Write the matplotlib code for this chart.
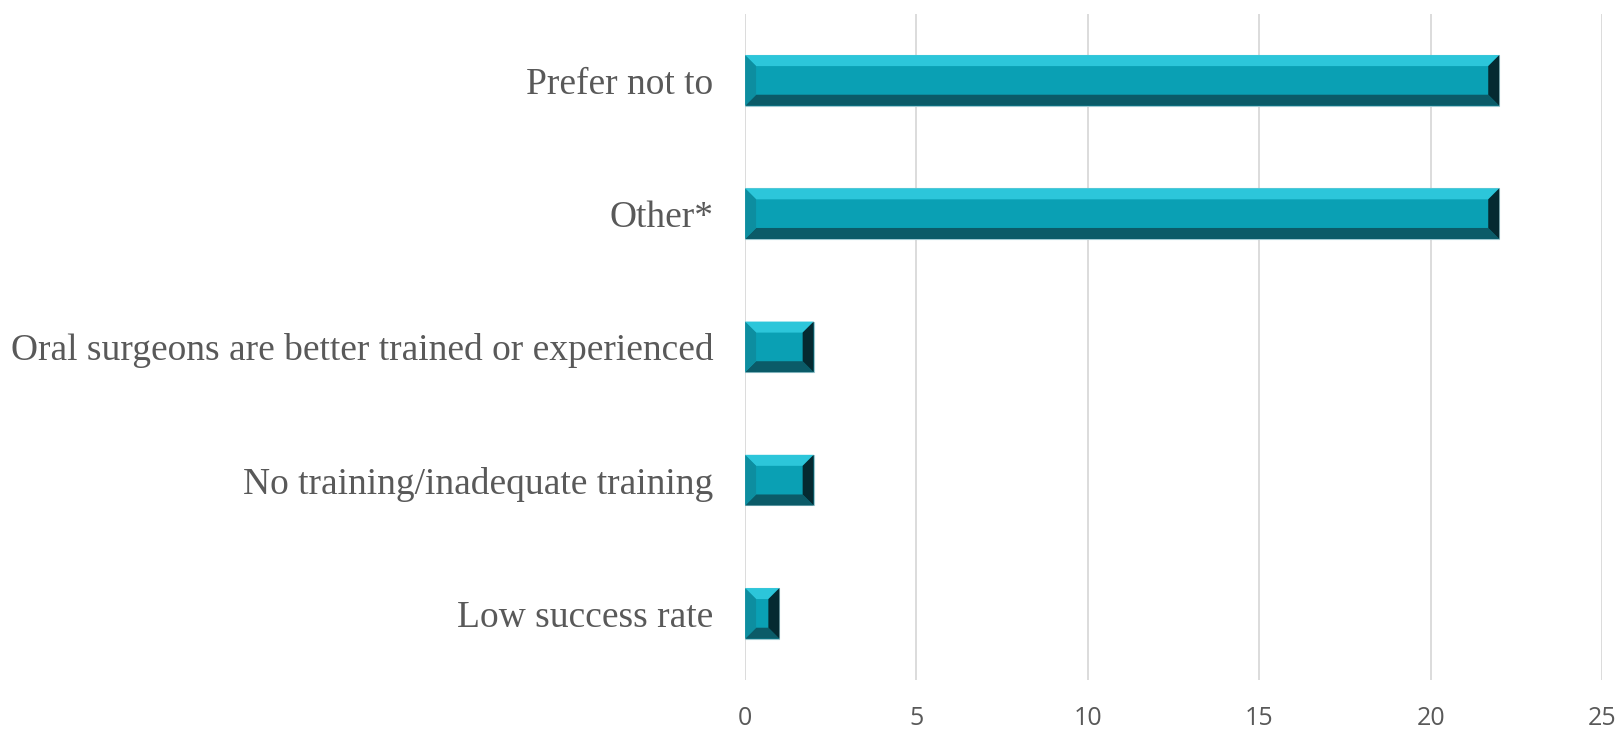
import numpy as np
import matplotlib
matplotlib.use('Agg')
import matplotlib.pyplot as plt
from matplotlib.patches import Polygon

# datos (de abajo hacia arriba)
categorias = ['Low success rate', 'No training/inadequate training',
              'Oral surgeons are better trained or experienced',
              'Other*', 'Prefer not to']
valores = [1, 2, 2, 22, 22]
ticks_x = [0, 5, 10, 15, 20, 25]

color_cara = '#0aa0b4'
color_sup = '#2cc6da'
color_inf = '#0b5b68'
color_der = '#052a31'
color_izq = '#0d8ea0'

fig = plt.figure(figsize=(16.24, 7.37), dpi=100)
ax = fig.add_axes([0.4588, 0.0773, 0.5277, 0.904])

y = np.arange(len(categorias))
alto = 0.38
bars = ax.barh(y, valores, height=alto, color=color_cara,
               edgecolor='#9fc9d1', linewidth=0.8, zorder=2)

ax.set_xlim(0, 25)
ax.set_ylim(-0.5, len(categorias) - 0.5)
ax.set_xticks(ticks_x)
ax.set_yticks(y)
ax.set_yticklabels(categorias, family='Liberation Serif', fontsize=27, color='#595959')
for lbl in ax.get_xticklabels():
    lbl.set_family('Open Sans')
    lbl.set_fontsize(18)
    lbl.set_color('#595959')
ax.tick_params(axis='both', length=0)
ax.tick_params(axis='y', pad=23)
ax.tick_params(axis='x', pad=19)
ax.grid(axis='x', color='#d9d9d9', linewidth=1.3, zorder=0)
for s in ax.spines.values():
    s.set_visible(False)

# bisel de las barras (ancho fijo en pixeles)
fig.canvas.draw()
px_x = (ax.get_xlim()[1] - ax.get_xlim()[0]) / ax.bbox.width
px_y = (ax.get_ylim()[1] - ax.get_ylim()[0]) / ax.bbox.height
b = 11
for yi, v in zip(y, valores):
    x0, x1 = 0, v
    y0, y1 = yi - alto / 2, yi + alto / 2
    bx = min(b * px_x, v / 2 * 0.9)
    by = min(b * px_y, alto / 2 * 0.9)
    caras = [
        ([(x0, y1), (x1, y1), (x1 - bx, y1 - by), (x0 + bx, y1 - by)], color_sup),
        ([(x0, y0), (x1, y0), (x1 - bx, y0 + by), (x0 + bx, y0 + by)], color_inf),
        ([(x1, y0), (x1, y1), (x1 - bx, y1 - by), (x1 - bx, y0 + by)], color_der),
        ([(x0, y0), (x0, y1), (x0 + bx, y1 - by), (x0 + bx, y0 + by)], color_izq),
    ]
    for pts, c in caras:
        ax.add_patch(Polygon(pts, closed=True, facecolor=c, edgecolor='none', zorder=3))

fig.savefig('out.png', dpi=100)
